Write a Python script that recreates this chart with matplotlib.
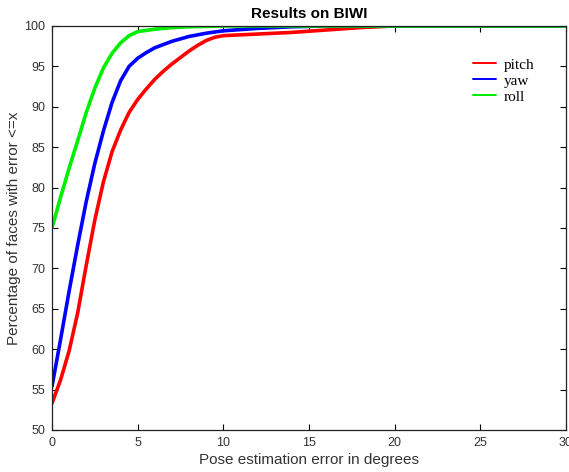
import matplotlib
matplotlib.use("Agg")
import matplotlib.pyplot as plt

# error threshold (degrees) and cumulative percentage for each angle
pitch_x = [0, 0.5, 1, 1.5, 2, 2.5, 3, 3.5, 4, 4.5, 5, 5.5, 6, 6.5, 7, 7.5, 8, 8.5, 9, 9.5, 10, 12, 14, 16, 18, 20, 30]
pitch_y = [53.3, 56.2, 59.8, 64.5, 70.4, 76.0, 80.7, 84.4, 87.1, 89.3, 90.9, 92.2, 93.4, 94.4, 95.3, 96.1, 96.9, 97.6, 98.2, 98.6, 98.8, 99.0, 99.2, 99.5, 99.8, 100, 100]

yaw_x = [0, 0.5, 1, 1.5, 2, 2.5, 3, 3.5, 4, 4.5, 5, 5.5, 6, 7, 8, 9, 10, 12, 14, 16, 30]
yaw_y = [55.4, 61.2, 67.2, 72.9, 78.3, 83.0, 87.0, 90.5, 93.2, 95.0, 96.0, 96.7, 97.3, 98.1, 98.7, 99.1, 99.4, 99.7, 99.9, 100, 100]

roll_x = [0, 0.5, 1, 1.5, 2, 2.5, 3, 3.5, 4, 4.5, 5, 6, 7, 8, 10, 30]
roll_y = [75.0, 78.8, 82.4, 85.8, 89.3, 92.3, 94.8, 96.6, 97.9, 98.8, 99.3, 99.6, 99.8, 99.9, 100, 100]

x_ticks = [0, 5, 10, 15, 20, 25, 30]
y_ticks = [50, 55, 60, 65, 70, 75, 80, 85, 90, 95, 100]

fig = plt.figure(figsize=(5.69, 4.72), dpi=100, facecolor="white")
ax = fig.add_axes([0.0914, 0.089, 0.9033, 0.856])

ax.plot(pitch_x, pitch_y, color="#ff0000", lw=2.6, label="pitch", solid_capstyle="round")
ax.plot(yaw_x, yaw_y, color="#0000ff", lw=2.6, label="yaw", solid_capstyle="round")
ax.plot(roll_x, roll_y, color="#00ee00", lw=2.6, label="roll", solid_capstyle="round")

ax.set_xlim(0, 30)
ax.set_ylim(50, 100)
ax.set_xticks(x_ticks)
ax.set_yticks(y_ticks)
ax.tick_params(direction="in", top=True, right=True, length=4, width=0.8,
               labelsize=9, labelcolor="#333333", pad=5)
for lab in ax.get_xticklabels() + ax.get_yticklabels():
    lab.set_family("Liberation Sans")
for s in ax.spines.values():
    s.set_linewidth(0.9)
    s.set_color("#222222")

ax.set_xlabel("Pose estimation error in degrees", family="Liberation Sans",
              fontsize=11, color="#333333", labelpad=3)
ax.set_ylabel("Percentage of faces with error <=x", family="Liberation Sans",
              fontsize=11, color="#333333", labelpad=2)
ax.set_title("Results on BIWI", family="Liberation Sans", fontsize=11,
             fontweight="bold", pad=6)

leg = ax.legend(loc="upper right", bbox_to_anchor=(0.965, 0.955), frameon=False,
                prop={"family": "Liberation Serif", "size": 11},
                handlelength=1.5, handletextpad=0.5, labelspacing=0.15)
for h in leg.get_lines():
    h.set_linewidth(1.4)

fig.savefig("out.png", dpi=100, facecolor="white")
